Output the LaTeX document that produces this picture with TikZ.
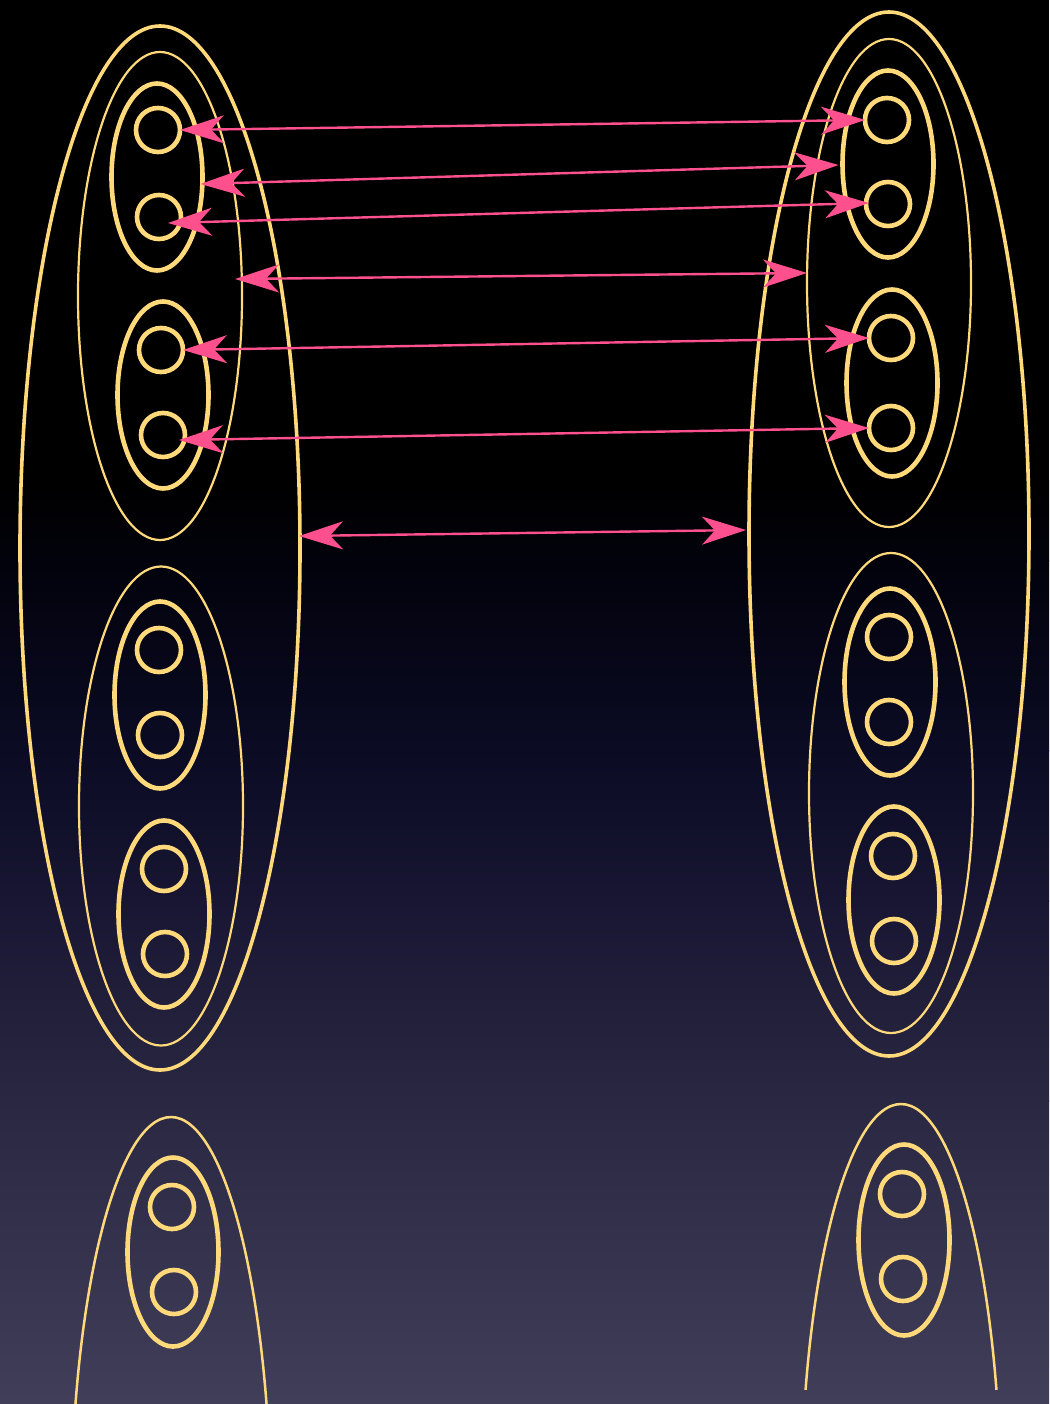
\documentclass[tikz,border=0pt]{standalone}
\usetikzlibrary{shapes.geometric,arrows.meta}
\definecolor{gold}{RGB}{255,217,122}
\definecolor{pinkarrow}{RGB}{255,80,142}
\definecolor{bgA}{RGB}{0,0,0}
\definecolor{bgB}{RGB}{2,2,12}
\definecolor{bgC}{RGB}{11,11,36}
\definecolor{bgD}{RGB}{24,22,50}
\definecolor{bgE}{RGB}{41,39,65}
\definecolor{bgF}{RGB}{64,62,88}
\begin{document}
\begin{tikzpicture}[x=1pt,y=-1pt,
  big/.style={ellipse,draw=gold,line width=3.6pt,inner sep=0pt,outer sep=0pt,minimum width=280pt,minimum height=1044pt},
  mid/.style={ellipse,draw=gold,line width=2.2pt,inner sep=0pt,outer sep=0pt,minimum width=164pt,minimum height=488pt},
  small/.style={ellipse,draw=gold,line width=4.6pt,inner sep=0pt,outer sep=0pt,minimum width=91pt,minimum height=187pt},
  dot/.style={circle,draw=gold,line width=4.6pt,inner sep=0pt,outer sep=0pt,minimum size=44pt},
  arc/.style={draw=gold,line width=2.5pt},
  link/.style={draw=pinkarrow,line width=2.4pt,{Stealth[length=44pt,width=28pt,inset=13pt]}-{Stealth[length=44pt,width=28pt,inset=13pt]}}
]
\useasboundingbox (0,0) rectangle (1049,1404);
% background
\fill[bgA] (0,0) rectangle (1049,481);
\shade[top color=bgA,bottom color=bgB] (0,480) rectangle (1049,561);
\shade[top color=bgB,bottom color=bgC] (0,560) rectangle (1049,751);
\shade[top color=bgC,bottom color=bgD] (0,750) rectangle (1049,901);
\shade[top color=bgD,bottom color=bgE] (0,900) rectangle (1049,1101);
\shade[top color=bgE,bottom color=bgF] (0,1100) rectangle (1049,1404);

% left structure
\node[big] (OL) at (160,548) {};
\node[mid] (IL1) at (160,296) {};
\node[mid,minimum height=479pt] (IL2) at (161,806) {};
\node[small] (SL1) at (157,177) {};
\node[small] (SL2) at (163,395) {};
\node[small] (SL3) at (160,695) {};
\node[small] (SL4) at (164,914) {};
\node[dot] (cL1) at (158,130) {};
\node[dot] (cL2) at (159,217) {};
\node[dot] (cL3) at (161,350) {};
\node[dot] (cL4) at (163,435) {};
\node[dot] (cL5) at (159,650) {};
\node[dot] (cL6) at (160,735) {};
\node[dot] (cL7) at (164,869) {};
\node[dot] (cL8) at (165,954) {};

% right structure
\node[big] (OR) at (889,534) {};
\node[mid] (IR1) at (889,283) {};
\node[mid,minimum height=480pt] (IR2) at (891,793) {};
\node[small] (SR1) at (888,164) {};
\node[small] (SR2) at (892,383) {};
\node[small] (SR3) at (890,682) {};
\node[small] (SR4) at (894,900) {};
\node[dot] (cR1) at (887,120) {};
\node[dot] (cR2) at (888,204) {};
\node[dot] (cR3) at (891,338) {};
\node[dot] (cR4) at (891,428) {};
\node[dot] (cR5) at (889,637) {};
\node[dot] (cR6) at (889,722) {};
\node[dot] (cR7) at (893,856) {};
\node[dot] (cR8) at (894,941) {};

% reflections
\begin{scope}
\clip (0,0) rectangle (520,1404);
\draw[arc] (171,1525) ellipse [x radius=100, y radius=408];
\end{scope}
\begin{scope}
\clip (520,0) rectangle (1049,1389);
\draw[arc] (901,1512) ellipse [x radius=100, y radius=408];
\end{scope}
\node[small,minimum height=189pt] (SL5) at (173,1252) {};
\node[dot] (cL9) at (172,1207) {};
\node[dot] (cL10) at (174,1292) {};
\node[small,minimum height=191pt] (SR5) at (904,1240) {};
\node[dot] (cR9) at (902,1194) {};
\node[dot] (cR10) at (903,1279) {};

% links
\draw[link] (cL1.east) -- (cR1.west);
\draw[link] ([shift={(-2,7)}]SL1.east) -- ([shift={(-4,1)}]SR1.west);
\draw[link] ([shift={(9,6)}]cL2.center) -- ([shift={(3,-1)}]cR2.west);
\draw[link] ([shift={(-7,-17)}]IL1.east) -- ([shift={(0,-10)}]IR1.west);
\draw[link] (cL3.east) -- (cR3.west);
\draw[link] ([shift={(-6,5)}]cL4.east) -- (cR4.west);
\draw[link] ([shift={(-1,-12)}]OL.east) -- ([shift={(-3,-4)}]OR.west);
\end{tikzpicture}
\end{document}
